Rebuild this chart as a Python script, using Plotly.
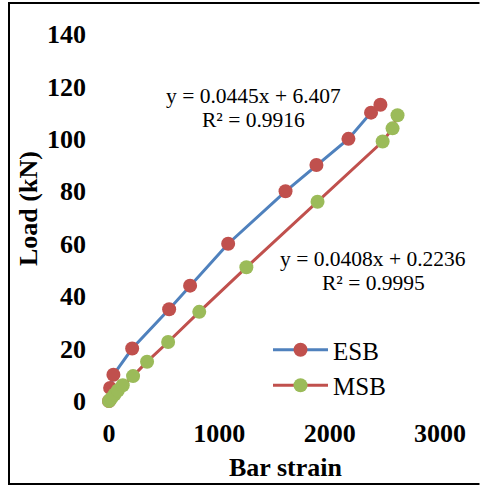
import plotly.graph_objects as go

# ---- data ----
esb_strain = [0, 10, 40, 210, 545, 735, 1080, 1600, 1880, 2170, 2375, 2460]
esb_load = [0, 5, 10, 20, 35, 44, 60, 80, 90, 100, 110, 113]

msb_strain = [0, 20, 50, 80, 125, 218, 345, 536, 818, 1245, 1890, 2480, 2570, 2615]
msb_load = [0, 1, 2.5, 4, 6, 9.5, 15, 22.5, 34, 51, 76, 99, 104, 109]

x_ticks = [0, 1000, 2000, 3000]
y_ticks = [0, 20, 40, 60, 80, 100, 120, 140]

esb_eq = "y = 0.0445x + 6.407"
esb_r2 = "R² = 0.9916"
msb_eq = "y = 0.0408x + 0.2236"
msb_r2 = "R² = 0.9995"

SERIF = "Liberation Serif, Times New Roman, serif"
BLUE = "#4F81BD"
RED = "#C0504D"
GREEN = "#9BBB59"

# body margin is removed by the post script, so the figure fills the window
W, H = 480, 486
PL, PT, PW, PH = 109, 34, 331, 367


def px(xp):
    return (xp - PL) / PW


def py(yp):
    return (PT + PH - yp) / PH


fig = go.Figure()
fig.add_trace(go.Scatter(
    x=esb_strain, y=esb_load, name="ESB", mode="lines+markers",
    line=dict(color=BLUE, width=3),
    marker=dict(color=RED, size=14),
    cliponaxis=False,
))
fig.add_trace(go.Scatter(
    x=msb_strain, y=msb_load, name="MSB", mode="lines+markers",
    line=dict(color=RED, width=3),
    marker=dict(color=GREEN, size=14),
    cliponaxis=False,
))

ann_font = dict(family=SERIF, size=21.5, color="black")
annotations = [
    dict(x=1310, y=116.4, text=esb_eq),
    dict(x=1310, y=107.2, text=esb_r2),
    dict(x=2393, y=54.2, text=msb_eq),
    dict(x=2393, y=45.0, text=msb_r2),
]
annotations = [dict(a, xref="x", yref="y", showarrow=False, font=ann_font,
                    xanchor="center", yanchor="middle") for a in annotations]
# axis titles
annotations.append(dict(xref="paper", yref="paper", x=px(285), y=py(467),
                        text="<b>Bar strain</b>", showarrow=False,
                        font=dict(family=SERIF, size=26, color="black"),
                        xanchor="center", yanchor="middle"))
annotations.append(dict(xref="paper", yref="paper", x=px(28), y=py(209),
                        text="<b>Load (kN)</b>", showarrow=False, textangle=-90,
                        font=dict(family=SERIF, size=26, color="black"),
                        xanchor="center", yanchor="middle"))

# chart frame: open on the right, as in the cropped original
frame_path = (f"M {px(479.5)},{py(3)} L {px(9)},{py(3)} "
              f"L {px(9)},{py(484)} L {px(479.5)},{py(484)}")
shapes = [dict(type="path", xref="paper", yref="paper", path=frame_path,
               line=dict(color="black", width=2), fillcolor="rgba(0,0,0,0)",
               layer="above")]

fig.update_layout(
    width=W, height=H,
    margin=dict(l=PL, r=W - PL - PW, t=PT, b=H - PT - PH),
    paper_bgcolor="white", plot_bgcolor="white",
    showlegend=True,
    legend=dict(
        x=px(268), y=py(327), xanchor="left", yanchor="top",
        font=dict(family=SERIF, size=25, color="black"),
        bgcolor="rgba(0,0,0,0)", borderwidth=0,
        itemwidth=55, tracegroupgap=0,
    ),
    annotations=annotations,
    shapes=shapes,
)
fig.update_xaxes(
    range=[0, 3000], tickvals=x_ticks, ticktext=[str(v) for v in x_ticks],
    showgrid=False, zeroline=False, showline=False, ticks="",
    tickfont=dict(family=SERIF, size=26, color="black", weight="bold"),
    ticklabelstandoff=14,
)
fig.update_yaxes(
    range=[0, 140], tickvals=y_ticks, ticktext=[str(v) for v in y_ticks],
    showgrid=False, zeroline=False, showline=False, ticks="",
    tickfont=dict(family=SERIF, size=26, color="black", weight="bold"),
    ticklabelstandoff=22,
)

fig.write_html(
    "out.html",
    config={"displayModeBar": False},
    post_script="document.body.style.margin='0';document.body.style.overflow='hidden';"
                "document.documentElement.style.overflow='hidden';",
)
